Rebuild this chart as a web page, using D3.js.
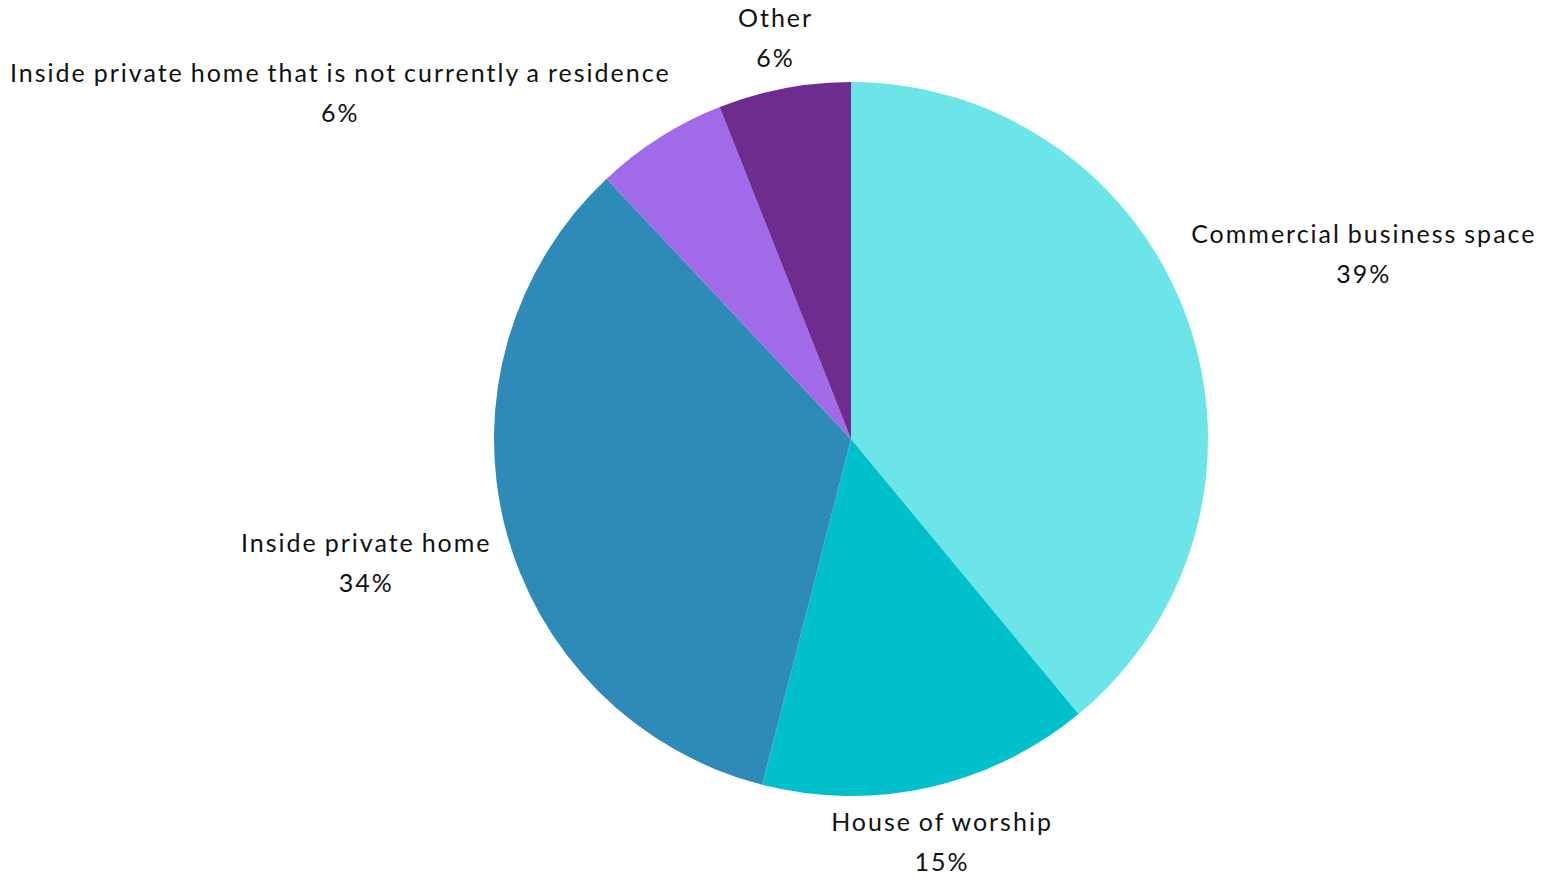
<!DOCTYPE html>
<html>
<head>
<meta charset="utf-8">
<script src="https://cdn.jsdelivr.net/npm/d3@7"></script>
<style>
  html, body { margin: 0; padding: 0; background: #ffffff; }
  svg { display: block; }
  text { font-family: Lato, "Open Sans", sans-serif; fill: #111111; letter-spacing: 2px; word-spacing: -1.5px; }
</style>
</head>
<body>
<svg id="chart" width="1545" height="881"></svg>
<script>
// Where the locations are: share of responses (%)
const categories = [
  "Commercial business space",
  "House of worship",
  "Inside private home",
  "Inside private home that is not currently a residence",
  "Other"
];
const shares = [39, 15, 34, 6, 6];
const sliceColors = ["#6ce5e8", "#00c1cb", "#2e8bb8", "#a06ae8", "#6e2c8f"];

const width = 1545, height = 881;
const cx = 851, cy = 439, radius = 357;
const fontSize = 25, lineGap = 40, capH = fontSize * 0.7;
const letterSpacing = 2;
const labelPad = 17;   // clearance between the pie edge and a label block
const stackGap = -3;   // vertical spacing allowed between stacked labels
const edgeMargin = 10; // labels stay this far inside the canvas

const svg = d3.select("#chart");
const g = svg.append("g").attr("transform", `translate(${cx},${cy})`);

const data = categories.map((c, i) => ({ label: c, value: shares[i], color: sliceColors[i] }));

const pie = d3.pie().value(d => d.value).sort(null);
const arc = d3.arc().innerRadius(0).outerRadius(radius);
const arcs = pie(data);

g.selectAll("path.slice")
  .data(arcs)
  .join("path")
  .attr("class", "slice")
  .attr("d", arc)
  .attr("fill", d => d.data.color);

// Labels: name on the first line, percentage on the second
const labels = g.selectAll("g.label")
  .data(arcs)
  .join("g")
  .attr("class", "label");

labels.append("text")
  .attr("text-anchor", "middle")
  .attr("font-size", fontSize)
  .attr("y", 0)
  .text(d => d.data.label);
labels.append("text")
  .attr("text-anchor", "middle")
  .attr("font-size", fontSize)
  .attr("y", lineGap)
  .text(d => d3.format(".0f")(d.data.value) + "%");

// distance from the pie centre to the closest point of a box
function boxDist(b) {
  const dx = Math.max(b.x0, Math.min(0, b.x1));
  const dy = Math.max(b.y0, Math.min(0, b.y1));
  return Math.hypot(dx, dy);
}
function boxAt(L, x, y) {
  return { x0: x - L.w / 2, x1: x + L.w / 2, y0: y - L.h / 2, y1: y + L.h / 2 };
}

const target = radius + labelPad;
const layout = [];
labels.each(function (d) {
  const texts = d3.select(this).selectAll("text").nodes();
  // drop the trailing letter-spacing from the measured ink width
  const w = d3.max(texts, t => t.getComputedTextLength()) - letterSpacing;
  const h = capH + lineGap;
  const a = (d.startAngle + d.endAngle) / 2;
  const ux = Math.sin(a), uy = -Math.cos(a);
  const L = { node: this, w, h, a, ux, uy };
  // push the block out along the mid-angle until it clears the pie
  let lo = 0, hi = 2000;
  for (let k = 0; k < 60; k++) {
    const m = (lo + hi) / 2;
    if (boxDist(boxAt(L, ux * m, uy * m)) < target) lo = m; else hi = m;
  }
  L.x = ux * hi; L.y = uy * hi;
  layout.push(L);
});

// resolve overlaps per side, walking away from 12 o'clock, then slide sideways to hug the pie
["left", "right"].forEach(side => {
  const group = layout.filter(L => side === "left" ? L.ux < 0 : L.ux >= 0)
                      .sort((p, q) => side === "left" ? q.a - p.a : p.a - q.a);
  for (let i = 1; i < group.length; i++) {
    const prev = group[i - 1], cur = group[i];
    const prevBottom = prev.y + prev.h / 2;
    if (cur.y - cur.h / 2 < prevBottom + stackGap) {
      cur.y = prevBottom + stackGap + cur.h / 2;
      const dir = side === "left" ? -1 : 1;
      let lo = 0, hi = 2000;
      for (let k = 0; k < 60; k++) {
        const m = (lo + hi) / 2;
        if (boxDist(boxAt(cur, dir * m, cur.y)) < target) lo = m; else hi = m;
      }
      cur.x = dir * hi;
    }
  }
});

// keep every block inside the canvas
layout.forEach(L => {
  const minX = edgeMargin - cx + L.w / 2;
  const maxX = width - edgeMargin - cx - L.w / 2;
  L.x = Math.max(minX, Math.min(maxX, L.x));
});

layout.forEach(L => {
  const top = L.y - L.h / 2;
  d3.select(L.node).attr("transform", `translate(${L.x + letterSpacing / 2},${top + capH})`);
});
</script>
</body>
</html>
